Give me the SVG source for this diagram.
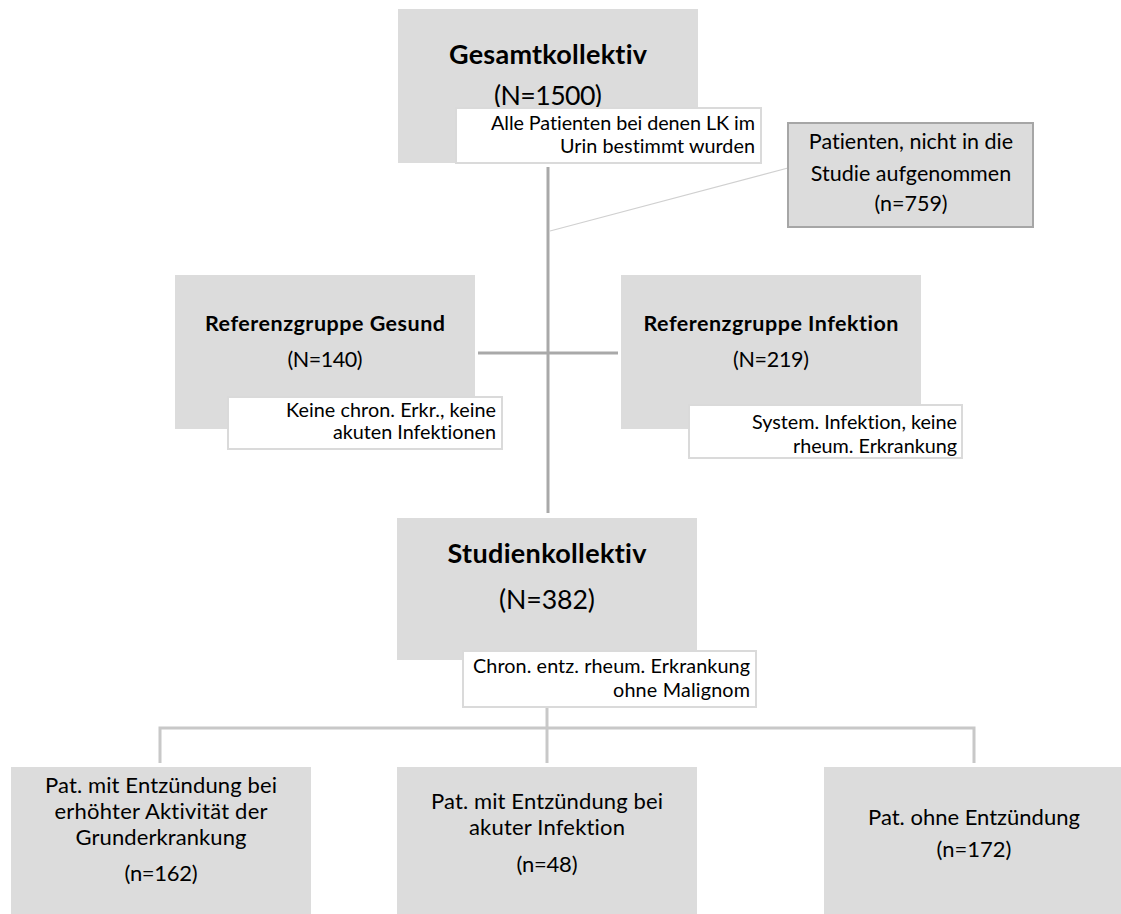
<svg xmlns="http://www.w3.org/2000/svg" width="1121" height="914" viewBox="0 0 1121 914">
<style>
text{font-family:"Lato","Carlito","Liberation Sans",sans-serif;fill:#000;font-variant-ligatures:none;font-feature-settings:"liga" 0}
.box{fill:#dcdcdc}
.call{fill:#fff;stroke:#dadada;stroke-width:2}
.excl{fill:#dcdcdc;stroke:#a6a6a6;stroke-width:2}
.big{font-size:27px;font-weight:bold;text-anchor:middle}
.bign{font-size:26.7px;text-anchor:middle}
.mid{font-size:21.5px;font-weight:bold;text-anchor:middle}
.midn{font-size:21.5px;text-anchor:middle}
.cl{font-size:19.8px;text-anchor:end}
.bt{font-size:22px;text-anchor:middle}
.ex{font-size:21.5px;text-anchor:middle}
.c1{stroke:#a9a9a9;stroke-width:3;fill:none}
.c2{stroke:#c8c8c8;stroke-width:3;fill:none}
.c3{stroke:#d0d0d0;stroke-width:1.2;fill:none}
</style>
<rect width="1121" height="914" fill="#fff"/>
<g id="connectors">
<line class="c1" x1="548" y1="167" x2="548" y2="513"/>
<line class="c1" x1="478" y1="353" x2="618" y2="353"/>
<line class="c3" x1="550" y1="231" x2="788" y2="168"/>
<line class="c2" x1="547" y1="707" x2="547" y2="763"/>
<polyline class="c2" points="160,763 160,728 974,728 974,763"/>
</g>
<g id="gesamt">
<rect class="box" x="398" y="9" width="300" height="154"/>
<text class="big" x="548" y="64" textLength="198">Gesamtkollektiv</text>
<text class="bign" x="548" y="105" textLength="108">(N=1500)</text>
<rect class="call" x="456" y="108" width="305" height="55"/>
<text class="cl" x="755" y="130" textLength="264">Alle Patienten bei denen LK im</text>
<text class="cl" x="755" y="153" textLength="195">Urin bestimmt wurden</text>
</g>
<g id="excluded">
<rect class="excl" x="788" y="123" width="245" height="104"/>
<text class="ex" x="911" y="149">Patienten, nicht in die</text>
<text class="ex" x="911" y="181">Studie aufgenommen</text>
<text class="ex" x="911" y="211">(n=759)</text>
</g>
<g id="ref-gesund">
<rect class="box" x="175" y="275" width="300" height="154"/>
<text class="mid" x="325" y="331" textLength="240">Referenzgruppe Gesund</text>
<text class="midn" x="325" y="367" textLength="75">(N=140)</text>
<rect class="call" x="228" y="397" width="274" height="52"/>
<text class="cl" x="496" y="417" textLength="210">Keine chron. Erkr., keine</text>
<text class="cl" x="496" y="439" textLength="163">akuten Infektionen</text>
</g>
<g id="ref-infektion">
<rect class="box" x="621" y="275" width="300" height="154"/>
<text class="mid" x="771" y="331" textLength="255">Referenzgruppe Infektion</text>
<text class="midn" x="771" y="367" textLength="76">(N=219)</text>
<rect class="call" x="689" y="405" width="273" height="53"/>
<text class="cl" x="957" y="429" textLength="205">System. Infektion, keine</text>
<text class="cl" x="957" y="453" textLength="164">rheum. Erkrankung</text>
</g>
<g id="studien">
<rect class="box" x="397" y="518" width="300" height="142"/>
<text class="big" x="547" y="563" textLength="199">Studienkollektiv</text>
<text class="bign" x="547" y="609" textLength="96">(N=382)</text>
<rect class="call" x="463" y="651" width="293" height="56"/>
<text class="cl" x="750" y="673" textLength="277">Chron. entz. rheum. Erkrankung</text>
<text class="cl" x="750" y="697" textLength="137">ohne Malignom</text>
</g>
<g id="aktiv">
<rect class="box" x="11" y="767" width="300" height="150"/>
<text class="bt" x="161" y="793" textLength="232">Pat. mit Entzündung bei</text>
<text class="bt" x="161" y="819" textLength="213">erhöhter Aktivität der</text>
<text class="bt" x="161" y="845" textLength="171">Grunderkrankung</text>
<text class="bt" x="161" y="881" textLength="73">(n=162)</text>
</g>
<g id="infekt">
<rect class="box" x="397" y="767" width="300" height="150"/>
<text class="bt" x="547" y="809" textLength="232">Pat. mit Entzündung bei</text>
<text class="bt" x="547" y="835" textLength="156">akuter Infektion</text>
<text class="bt" x="547" y="872" textLength="61">(n=48)</text>
</g>
<g id="ohne">
<rect class="box" x="824" y="767" width="300" height="150"/>
<text class="bt" x="974" y="825">Pat. ohne Entzündung</text>
<text class="bt" x="974" y="857">(n=172)</text>
</g>
</svg>
